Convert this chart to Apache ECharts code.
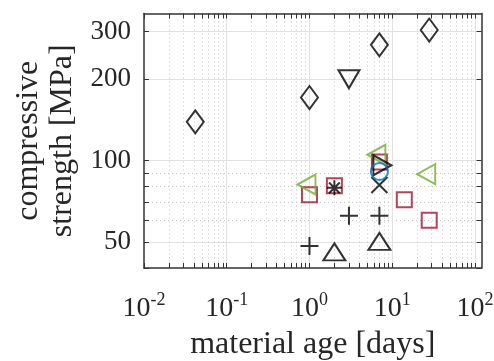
<!DOCTYPE html>
<html><head><meta charset="utf-8">
<script src="https://cdn.jsdelivr.net/npm/echarts@6/dist/echarts.min.js"></script>
<style>html,body{margin:0;padding:0;background:#fff}#c{width:494px;height:361px}</style>
</head><body><div id="c"></div>
<script>
// ---- axes ----
const xMin = 0.01, xMax = 120;
const yMin = 40, yMax = 350;
const xMajorTicks = [0.01, 0.1, 1, 10, 100];
const xMinorTicks = [0.02,0.03,0.04,0.05,0.06,0.07,0.08,0.09,
                     0.2,0.3,0.4,0.5,0.6,0.7,0.8,0.9,
                     2,3,4,5,6,7,8,9,
                     20,30,40,50,60,70,80,90];
const yMajorTicks = [50, 100, 200, 300];
const yMinorTicks = [40, 60, 70, 80, 90];
const xTitle = 'material age [days]';
const yTitle = 'compressive\nstrength [MPa]';

// ---- data (age in days, strength in MPa) ----
const diamondX = [1/24, 1, 7, 28];
const diamondY = [139, 171, 268, 304];
const downTriX = [3];
const downTriY = [205];
const upTriX = [2, 7];
const upTriY = [44.7, 48.9];
const plusX = [1, 3, 7];
const plusY = [48.3, 62.5, 62.5];
const crossX = [7];
const crossY = [81.1];
const starX = [2];
const starY = [79.2];
const rightTriX = [7];
const rightTriY = [96];
const greenLeftX = [1, 7, 28];
const greenLeftY = [81.5, 105, 89];
const redSquareX = [1, 2, 7, 14, 28];
const redSquareY = [74.6, 80.6, 98.7, 71.6, 60.1];
const blueCircleX = [7];
const blueCircleY = [91.1];

const FONT = 'Liberation Serif';
const TXT = '#262626';
const AX = '#333333';
const BLACK = '#000000', GREEN = '#77AC30', RED = '#A2142F', BLUE = '#0072BD';

const pts = (xs, ys) => xs.map((x, i) => [x, ys[i]]);
const allX = xMajorTicks.concat(xMinorTicks);
const allY = yMajorTicks.concat(yMinorTicks);
const xInner = xMajorTicks.filter(v => v > xMin);
const yMinorInner = yMinorTicks.filter(v => v > yMin);

function mk(list, opts) {
  return Object.assign({type: 'scatter', xAxisIndex: 0, yAxisIndex: 0, silent: true,
    data: list}, opts);
}
const hollow = (c, w) => ({color: 'rgba(0,0,0,0)', borderColor: c, borderWidth: w || 2});

const off = {show: false};
function xAx(extra) {
  return Object.assign({type: 'log', logBase: 10, min: xMin, max: xMax,
    axisLine: off, axisTick: off, axisLabel: off, splitLine: off, minorTick: off, minorSplitLine: off}, extra);
}
function yAx(extra) {
  return Object.assign({type: 'log', logBase: 10, min: yMin, max: yMax,
    axisLine: off, axisTick: off, axisLabel: off, splitLine: off, minorTick: off, minorSplitLine: off}, extra);
}

const option = {
  animation: false,
  backgroundColor: '#fff',
  grid: {left: 144, right: 12.5, top: 13.5, bottom: 93, containLabel: false, outerBoundsMode: 'none'},
  xAxis: [
    xAx({position: 'bottom',
      axisLine: {show: true, lineStyle: {color: AX, width: 1.5}},
      axisTick: {show: true, inside: true, length: 5, customValues: allX, lineStyle: {color: AX, width: 1}},
      axisLabel: {show: true, customValues: xMajorTicks, margin: 23,
        formatter: v => '{b|10}{s|' + Math.round(Math.log10(v)) + '}',
        rich: {
          b: {fontFamily: FONT, fontSize: 28, color: TXT, verticalAlign: 'bottom', lineHeight: 32},
          s: {fontFamily: FONT, fontSize: 18, color: TXT, verticalAlign: 'top', lineHeight: 16}
        }},
      name: xTitle, nameLocation: 'middle', nameGap: 61,
      nameTextStyle: {fontFamily: FONT, fontSize: 32, color: TXT}
    }),
    xAx({position: 'top',
      axisLine: {show: true, lineStyle: {color: AX, width: 1.5}},
      axisTick: {show: true, inside: true, length: 5, customValues: allX, lineStyle: {color: AX, width: 1}}
    }),
    xAx({position: 'bottom',
      axisTick: {show: false, customValues: xInner},
      splitLine: {show: true, lineStyle: {color: '#e2e2e2', width: 1, type: 'solid'}}
    }),
    xAx({position: 'bottom',
      axisTick: {show: false, customValues: xMinorTicks},
      splitLine: {show: true, lineStyle: {color: '#c4c4c4', width: 1, type: [1, 3]}}
    })
  ],
  yAxis: [
    yAx({position: 'left',
      axisLine: {show: true, lineStyle: {color: AX, width: 1.5}},
      axisTick: {show: true, inside: true, length: 5, customValues: allY, lineStyle: {color: AX, width: 1}},
      axisLabel: {show: true, customValues: yMajorTicks, margin: 13,
        formatter: v => String(Math.round(v)),
        fontFamily: FONT, fontSize: 27, color: TXT},
      name: yTitle, nameLocation: 'middle', nameRotate: 90, nameGap: 64,
      nameTextStyle: {fontFamily: FONT, fontSize: 32, color: TXT, lineHeight: 34, align: 'center'}
    }),
    yAx({position: 'right',
      axisLine: {show: true, lineStyle: {color: AX, width: 1.5}},
      axisTick: {show: true, inside: true, length: 5, customValues: allY, lineStyle: {color: AX, width: 1}}
    }),
    yAx({position: 'left',
      axisTick: {show: false, customValues: yMajorTicks},
      splitLine: {show: true, lineStyle: {color: '#e2e2e2', width: 1, type: 'solid'}}
    }),
    yAx({position: 'left',
      axisTick: {show: false, customValues: yMinorInner},
      splitLine: {show: true, lineStyle: {color: '#c4c4c4', width: 1, type: [1, 3]}}
    })
  ],
  series: [
    mk(pts(redSquareX, redSquareY), {symbol: 'rect', symbolSize: 15, itemStyle: hollow(RED), z: 3}),
    mk(pts(greenLeftX, greenLeftY), {symbol: 'triangle', symbolSize: [20, 18], symbolRotate: 90, symbolOffset: [-3, 0], itemStyle: hollow(GREEN), z: 4}),
    mk(pts(diamondX, diamondY), {symbol: 'diamond', symbolSize: [17, 23], itemStyle: hollow(BLACK), z: 5}),
    mk(pts(downTriX, downTriY), {symbol: 'triangle', symbolSize: [21, 18], symbolRotate: 180, symbolOffset: [0, 3], itemStyle: hollow(BLACK), z: 5}),
    mk(pts(upTriX, upTriY), {symbol: 'triangle', symbolSize: [22, 17], symbolOffset: [0, -3], itemStyle: hollow(BLACK), z: 5}),
    mk(pts(plusX, plusY), {symbol: 'path://M0,9L18,9M9,0L9,18', symbolSize: 18, itemStyle: hollow(BLACK), z: 5}),
    mk(pts(crossX, crossY), {symbol: 'path://M0,0L16,16M0,16L16,0', symbolSize: 16, itemStyle: hollow(BLACK), z: 5}),
    mk(pts(starX, starY), {symbol: 'path://M0,8L16,8M8,0L8,16M2.3,2.3L13.7,13.7M2.3,13.7L13.7,2.3', symbolSize: 15, itemStyle: hollow(BLACK), z: 5}),
    mk(pts(rightTriX, rightTriY), {symbol: 'triangle', symbolSize: [20, 18], symbolRotate: -90, symbolOffset: [3, 0], itemStyle: hollow(BLACK), z: 5}),
    mk(pts(blueCircleX, blueCircleY), {symbol: 'circle', symbolSize: 17, itemStyle: hollow(BLUE), z: 6})
  ]
};
const chart = echarts.init(document.getElementById('c'), null, {renderer: 'canvas'});
chart.setOption(option);
</script>
</body></html>
